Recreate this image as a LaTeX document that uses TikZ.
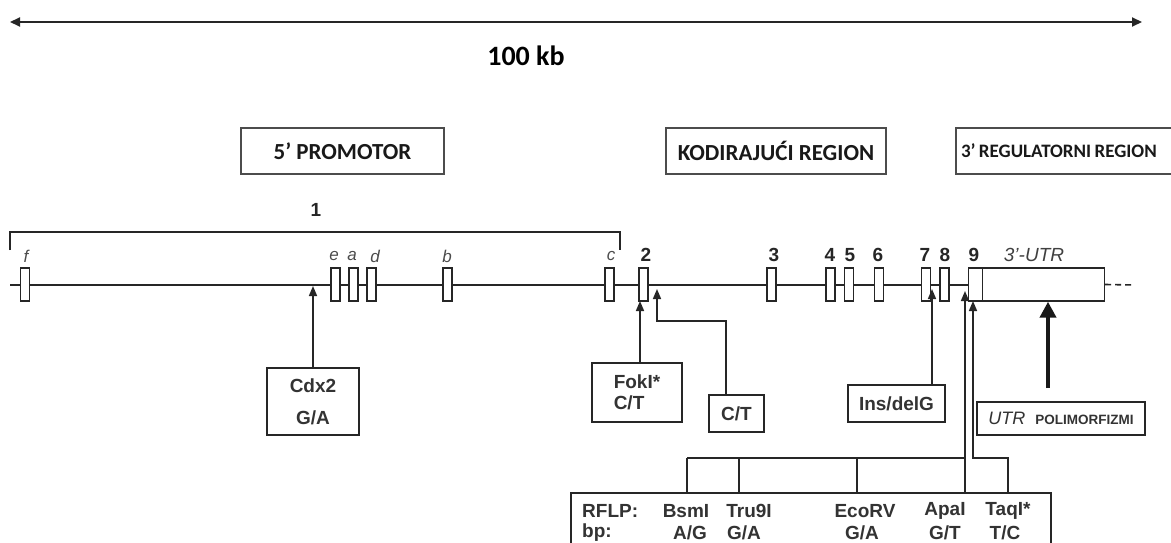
\documentclass[tikz,border=0pt]{standalone}
\usepackage{fontspec}
\setmainfont{Liberation Sans}
\newfontfamily\carl{Carlito}
\usetikzlibrary{arrows.meta,calc}
\tikzset{
  ln/.style={line width=1.6, draw=black!85},
  tipA/.style={-{Triangle[length=10,width=8]}},
  exon/.style={draw=black!85, line width=1.4, fill=white, minimum width=9, minimum height=33, inner sep=0},
  region/.style={draw=black!70, line width=2.2, minimum height=46, inner sep=0, text=black!90},
  lbl/.style={draw=black!85, line width=1.5, inner sep=0, font=\fontsize{19}{21}\selectfont\bfseries, text=black!80},
  exlet/.style={font=\fontsize{17}{19}\selectfont\itshape, text=black!70, inner sep=0},
  exnum/.style={font=\fontsize{19}{21}\selectfont\bfseries, text=black!85, inner sep=0},
  rt/.style={font=\fontsize{19}{21}\selectfont\bfseries, text=black!80, inner sep=0},
}
\begin{document}
\begin{tikzpicture}[x=1pt,y=-1pt]
\clip (0,0) rectangle (1171,543);
\fill[white] (0,0) rectangle (1171,543);
% scale bar
\coordinate (sL) at (10,22);
\coordinate (sR) at (1142,22);
\draw[line width=2, draw=black!85, {Triangle[length=10,width=9]}-{Triangle[length=10,width=9]}] (sL) -- (sR);
\node[font=\fontsize{28}{30}\selectfont\carl\bfseries] (kb) at (526,56) {100 kb};
% region boxes
\node[region, minimum width=203] (prom) at (342.5,151) {\fontsize{23}{25}\selectfont\carl\bfseries 5’ PROMOTOR};
\node[region, minimum width=220] (kod) at (776,151) {\fontsize{23}{25}\selectfont\carl\bfseries KODIRAJUĆI REGION};
\node[region, anchor=west, inner xsep=5, text width=225, align=left] (reg3) at (955,151) {\fontsize{19}{22}\selectfont\carl\bfseries 3’ REGULATORNI REGION};
% bracket 1
\node[exnum] (one) at (316,210) {1};
\coordinate (b1) at (10,250);
\coordinate (b2) at (10,232);
\coordinate (b3) at (620,232);
\coordinate (b4) at (620,250);
\draw[ln] (b1) -- (b2) -- (b3) -- (b4);
% gene line
\coordinate (g0) at (10,285);
\coordinate (g1) at (982,285);
\coordinate (gD) at (1135,285);
\draw[ln] (g0) -- (g1);
% exons
\node[exon] (ef) at (25,284.5) {};
\node[exon] (ee) at (335.5,284.5) {};
\node[exon] (ea) at (353.5,284.5) {};
\node[exon] (ed) at (371.5,284.5) {};
\node[exon] (eb) at (447.5,284.5) {};
\node[exon] (ec) at (609.5,284.5) {};
\node[exon] (e2) at (643.5,284.5) {};
\node[exon] (e3) at (771.5,284.5) {};
\node[exon] (e4) at (830.5,284.5) {};
\node[exon] (e5) at (849,284.5) {};
\node[exon] (e6) at (879,284.5) {};
\node[exon] (e7) at (926,284.5) {};
\node[exon] (e8) at (944.5,284.5) {};
\node[exon, minimum width=14] (e9) at (975.5,284.5) {};
\node[exon, minimum width=122] (utr) at (1043.5,284.5) {};
\draw[ln, dash pattern=on 6pt off 4pt] (utr.east) -- (gD);
% exon labels
\node[exlet] (lf) at (26,256) {f};
\node[exlet] (le) at (334,256) {e};
\node[exlet] (la) at (352,256) {a};
\node[exlet] (ld) at (375,256) {d};
\node[exlet] (lb) at (447,256) {b};
\node[exlet] (lc) at (611,256) {c};
\node[exnum] (n2) at (646,255) {2};
\node[exnum] (n3) at (774,255) {3};
\node[exnum] (n4) at (830,255) {4};
\node[exnum] (n5) at (850,255) {5};
\node[exnum] (n6) at (878,255) {6};
\node[exnum] (n7) at (925,255) {7};
\node[exnum] (n8) at (945,255) {8};
\node[exnum] (n9) at (974,255) {9};
\node[font=\fontsize{19}{21}\selectfont\itshape, text=black!75, inner sep=0] (lutr) at (1034,255) {3'-UTR};
% Cdx2
\node[lbl, minimum width=92, minimum height=67, align=center] (cdx) at (313,401.5) {Cdx2\\[11pt]G/A};
\coordinate (cdxT) at (313,286);
\draw[ln, tipA] (cdx.north) -- (cdxT);
% FokI
\node[lbl, minimum width=90, minimum height=59, align=left] (fok) at (637,392.5) {FokI*\\C/T};
\coordinate (fokT) at (640,301);
\draw[ln, tipA] (fokT |- fok.north) -- (fokT);
% C/T
\node[lbl, minimum width=55, minimum height=37] (ct) at (736.5,413.5) {C/T};
\coordinate (ctT) at (657,289);
\coordinate (ctS) at (726,321);
\draw[ln, tipA] (ctS |- ct.north) -- (ctS) -- (ctT |- ctS) -- (ctT);
% Ins/delG
\node[lbl, minimum width=97, minimum height=37] (ins) at (896.5,403.5) {Ins/delG};
\coordinate (insT) at (932,289);
\draw[ln, tipA] (insT |- ins.north) -- (insT);
% UTR polymorphisms
\node[lbl, minimum width=168, minimum height=33] (utrp) at (1061,418.5) {{\fontsize{18}{20}\selectfont\mdseries\itshape UTR}\hspace{10pt}{\fontsize{13.5}{15}\selectfont POLIMORFIZMI}};
\coordinate (utrA) at (1048,388);
\draw[line width=4.5, draw=black!90, -{Triangle[length=16,width=16]}] (utrA) -- (utrA |- utr.south);
% RFLP box
\node[draw=black!85, line width=1.5, anchor=north west, minimum width=480, minimum height=80, inner sep=0] (rflp) at (570,492) {};
\node[rt, anchor=west] (r1) at (582,511) {RFLP:};
\node[rt, anchor=west] (r2) at (582,533) {bp:};
\node[rt] (t1) at (686,511) {BsmI};
\node[rt] (t2) at (749,511) {Tru9I};
\node[rt] (t3) at (865,511) {EcoRV};
\node[rt] (t4) at (945,511) {ApaI};
\node[rt] (t5) at (1008,511) {TaqI*};
\node[rt] (u1) at (690,533) {A/G};
\node[rt] (u2) at (744,533) {G/A};
\node[rt] (u3) at (862,533) {G/A};
\node[rt] (u4) at (945,533) {G/T};
\node[rt] (u5) at (1005,533) {T/C};
% RFLP tree
\coordinate (h1) at (687,458);
\coordinate (h2) at (739,458);
\coordinate (h3) at (857,458);
\coordinate (h4) at (965,458);
\draw[ln] (h1) -- (h4);
\draw[ln] (h1) -- (h1 |- rflp.north);
\draw[ln] (h2) -- (h2 |- rflp.north);
\draw[ln] (h3) -- (h3 |- rflp.north);
\coordinate (apT) at (965,291);
\draw[ln, tipA] (apT |- rflp.north) -- (apT);
\coordinate (tqT) at (973,301);
\coordinate (tqS) at (1008,458);
\draw[ln, tipA] (tqS |- rflp.north) -- (tqS) -- (tqT |- tqS) -- (tqT);
\end{tikzpicture}
\end{document}
